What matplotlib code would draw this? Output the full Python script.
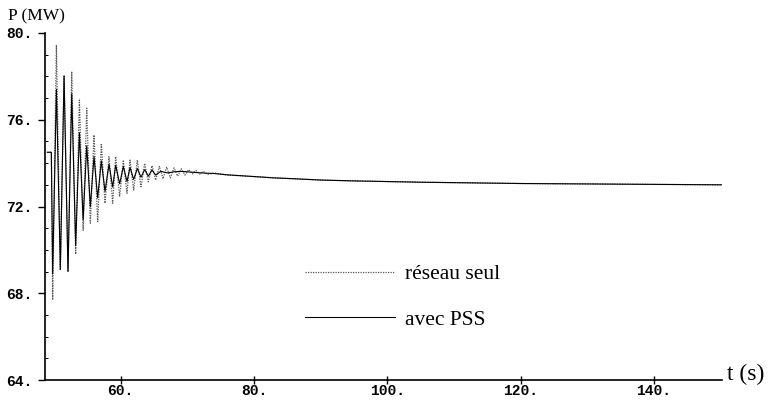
import matplotlib
matplotlib.use("Agg")
import matplotlib.pyplot as plt
from matplotlib.ticker import MultipleLocator, FixedLocator

# ---- data ----
t_seul = [49.0, 49.6, 49.8, 50.36, 50.95, 51.51, 52.1, 52.66, 53.25, 53.81,
          54.37, 54.91, 55.45, 56.0, 56.55, 57.1, 57.65, 58.25, 58.8, 59.25,
          59.85, 60.4, 60.95, 61.4, 61.95, 62.5, 63.05, 63.6, 64.15, 64.7,
          65.25, 65.8, 66.35, 66.9, 67.45, 68.0, 68.55, 69.1, 69.65, 70.2,
          70.75, 71.3, 71.85, 72.4, 73.0, 74.0, 76.0, 78.0, 80.0, 83.0,
          86.0, 90.0, 95.0, 100.0, 105.0, 110.0, 115.0, 120.0, 125.0, 130.0,
          135.0, 140.0, 145.0, 150.2]
p_seul = [74.5, 74.5, 67.7, 79.45, 69.05, 78.06, 69.0, 78.22, 69.8, 76.91,
          70.9, 76.53, 71.23, 75.30, 71.3, 74.91, 72.15, 74.30, 72.15, 74.30,
          72.45, 74.14, 72.61, 74.14, 72.76, 74.14, 72.91, 73.99, 73.14, 73.88,
          73.22, 73.85, 73.28, 73.82, 73.32, 73.78, 73.40, 73.74, 73.45, 73.70,
          73.50, 73.66, 73.50, 73.62, 73.48, 73.55, 73.45, 73.42, 73.38, 73.32,
          73.28, 73.22, 73.18, 73.15, 73.12, 73.10, 73.08, 73.06, 73.05, 73.04,
          73.03, 73.02, 73.01, 73.00]

t_pss = [49.0, 49.6, 49.8, 50.36, 50.95, 51.51, 52.1, 52.66, 53.25, 53.81,
         54.37, 54.91, 55.45, 56.0, 56.55, 57.1, 57.65, 58.25, 58.8, 59.25,
         59.85, 60.4, 60.95, 61.4, 61.95, 62.5, 63.05, 63.6, 64.15, 64.7,
         65.25, 66.0, 67.0, 68.0, 69.0, 70.0, 72.0, 74.0, 76.0, 78.0,
         80.0, 83.0, 86.0, 90.0, 95.0, 100.0, 105.0, 110.0, 115.0, 120.0,
         125.0, 130.0, 135.0, 140.0, 145.0, 150.2]
p_pss = [74.5, 74.5, 68.9, 77.4, 69.1, 78.0, 69.0, 77.2, 70.2, 75.4,
         71.4, 74.8, 72.0, 74.3, 72.4, 74.1, 72.7, 73.95, 72.9, 73.9,
         73.05, 73.85, 73.15, 73.8, 73.25, 73.75, 73.35, 73.7, 73.4, 73.68,
         73.45, 73.62, 73.55, 73.6, 73.62, 73.6, 73.55, 73.52, 73.46, 73.42,
         73.38, 73.32, 73.28, 73.22, 73.18, 73.15, 73.12, 73.10, 73.08, 73.06,
         73.05, 73.04, 73.03, 73.02, 73.01, 73.00]

x_ticks = [60, 80, 100, 120, 140]
x_labels = ["60.", "80.", "100.", "120.", "140."]
y_ticks = [64, 68, 72, 76, 80]
y_labels = ["64.", "68.", "72.", "76.", "80."]
series_labels = ["réseau seul", "avec PSS"]

# ---- figure ----
fig = plt.figure(figsize=(7.72, 4.0), dpi=100)
ax = fig.add_axes([45/772, 20/400, (722-45)/772, (380-33)/400])

ax.plot(t_seul, p_seul, color="#555555", lw=0.9, ls=(0, (1, 1)), label=series_labels[0])
ax.plot(t_pss, p_pss, color="black", lw=0.8, label=series_labels[1])

ax.set_xlim(48.65, 150.2)
ax.set_ylim(64, 80)
for s in ["top", "right"]:
    ax.spines[s].set_visible(False)
for s in ["left", "bottom"]:
    ax.spines[s].set_linewidth(1.2)

tick_font = dict(family="Liberation Mono", size=10.5, weight="bold")
ax.xaxis.set_major_locator(FixedLocator(x_ticks))
ax.set_xticklabels(x_labels, fontdict=tick_font)
ax.yaxis.set_major_locator(FixedLocator(y_ticks))
ax.set_yticklabels(y_labels, fontdict=tick_font)
ax.yaxis.set_minor_locator(MultipleLocator(1))
ax.tick_params(axis="y", which="major", direction="out", length=5, width=1, pad=4)
ax.tick_params(axis="y", which="minor", direction="in", length=2, width=0.7)
ax.tick_params(axis="x", which="major", direction="inout", length=6, width=1, pad=0)

fig.text(8/772, 1 - 8/400, "P (MW)", family="Liberation Serif", size=12.5,
         va="top", ha="left")
fig.text(727/772, 1 - 374/400, "t (s)", family="Liberation Serif", size=17,
         va="center", ha="left")

leg = ax.legend(loc="center left", bbox_to_anchor=(305/772, 1 - 297/400),
                bbox_transform=fig.transFigure, frameon=False,
                prop=dict(family="Liberation Serif", size=15.5),
                handlelength=4.2, handletextpad=0.45, labelspacing=1.2,
                borderpad=0, borderaxespad=0)

fig.savefig("out.png", dpi=100)
